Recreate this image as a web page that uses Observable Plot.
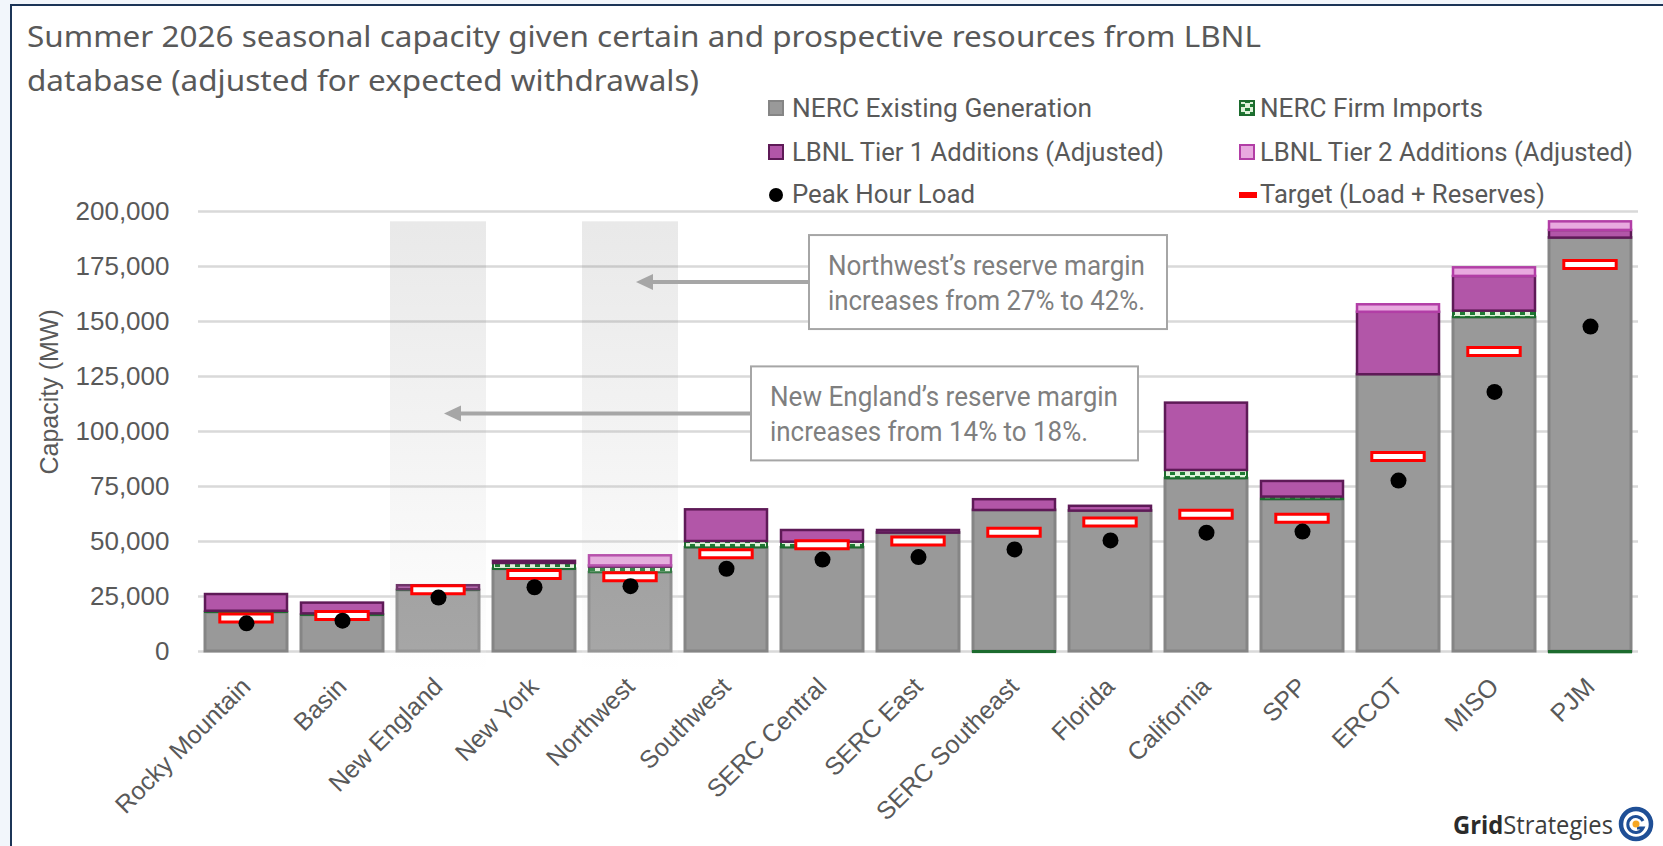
<!DOCTYPE html>
<html><head><meta charset="utf-8">
<script src="https://cdn.jsdelivr.net/npm/d3@7"></script>
<script src="https://cdn.jsdelivr.net/npm/@observablehq/plot@0.6"></script>
<style>
html,body{margin:0;padding:0;background:#f2f6fb;}
#page{position:relative;width:1663px;height:846px;overflow:hidden;background:#f2f6fb;}
#frame{position:absolute;left:10px;top:4px;width:1700px;height:900px;border:2px solid #1c3557;background:#fff;box-sizing:border-box}
#chart{position:absolute;left:0;top:0}
#overlay{position:absolute;left:0;top:0;pointer-events:none}
</style></head><body>
<div id="page"><div id="frame"></div><div id="chart"></div>
<svg id="overlay" width="1663" height="846" xmlns="http://www.w3.org/2000/svg">
<defs>
<pattern id="hatch" patternUnits="userSpaceOnUse" width="10" height="8">
<rect width="10" height="8" fill="#dff2da"/>
<rect x="0" y="0" width="5" height="3" fill="#1f7a34"/>
<rect x="5" y="4" width="5" height="3" fill="#1f7a34"/>
</pattern>
<linearGradient id="shade" x1="0" y1="0" x2="0" y2="1">
<stop offset="0" stop-color="#555" stop-opacity="0.13"/>
<stop offset="1" stop-color="#fff" stop-opacity="0.14"/>
</linearGradient>
</defs>
</svg>
</div>
<script>
// ---------- data ----------
const regions = ["Rocky Mountain","Basin","New England","New York","Northwest","Southwest","SERC Central","SERC East","SERC Southeast","Florida","California","SPP","ERCOT","MISO","PJM"];
const seriesNames = ["NERC Existing Generation","NERC Firm Imports","LBNL Tier 1 Additions (Adjusted)","LBNL Tier 2 Additions (Adjusted)"];
const existing    = [17700,16400,27700,37300,35800,47100,47100,53800,64100,63800,78500,69000,125800,151700,187900];
const firmImports = [600,700,400,2700,2500,2900,2600,0,-500,0,3800,1200,0,3000,-600];
const tier1       = [7600,4900,1800,1000,600,14400,5300,1200,4900,2200,30600,7100,28400,15800,3500];
const tier2       = [0,0,0,0,4600,0,0,0,0,0,0,0,3400,3900,3900];
const peakLoad    = [12800,14000,24500,29200,29700,37600,41800,42900,46400,50500,54000,54500,77700,118000,147700];
const targetLoad  = [15200,16400,28100,35000,34000,44400,48500,50200,54200,58900,62400,60600,88600,136400,175900];
const yTicks = [0,25000,50000,75000,100000,125000,150000,175000,200000];
const yLabel = "Capacity (MW)";
const yLabelLevel = 118000;
const highlighted = ["New England","Northwest"];
const titleLines = ["Summer 2026 seasonal capacity given certain and prospective resources from LBNL","database (adjusted for expected withdrawals)"];
const legendLabels = ["NERC Existing Generation","NERC Firm Imports","LBNL Tier 1 Additions (Adjusted)","LBNL Tier 2 Additions (Adjusted)","Peak Hour Load","Target (Load + Reserves)"];
const annoRegions = ["Northwest","New England"];
const annoLines = [["Northwest\u2019s reserve margin","increases from 27% to 42%."],["New England\u2019s reserve margin","increases from 14% to 18%."]];
const annoLevel = [167700,108000];

// ---------- stacking ----------
const seriesValues = [existing, firmImports, tier1, tier2];
const rows = [];
regions.forEach((r, i) => {
  let pos = 0, neg = 0;
  seriesValues.forEach((vals, s) => {
    const v = vals[i];
    if (!v) return;
    if (v > 0) { rows.push({region: r, series: seriesNames[s], y1: pos, y2: pos + v}); pos += v; }
    else { rows.push({region: r, series: seriesNames[s], y1: neg + v, y2: neg}); neg += v; }
  });
});
const totals = regions.map((r, i) => seriesValues.reduce((a, vals) => a + Math.max(0, vals[i]), 0));
const markers = regions.map((r, i) => ({region: r, load: peakLoad[i], target: targetLoad[i]}));
const shadeTop = d3.max(totals);

const seriesStyle = {
  "NERC Existing Generation": {fill: "#999999", stroke: "#858585", strokeWidth: 3},
  "NERC Firm Imports": {fill: "url(#hatch)", stroke: "#1c6b2e", strokeWidth: 2},
  "LBNL Tier 1 Additions (Adjusted)": {fill: "#b256a8", stroke: "#5e1a57", strokeWidth: 2.5},
  "LBNL Tier 2 Additions (Adjusted)": {fill: "#e8a9df", stroke: "#b23ea6", strokeWidth: 2.5}
};

const W = 1663, H = 846;
const plot = Plot.plot({
  width: W, height: H,
  marginTop: 211, marginBottom: 195, marginLeft: 198, marginRight: 25,
  style: {fontFamily: "'Liberation Sans', Arial, sans-serif", color: "#595959", background: "none"},
  x: {domain: regions, paddingInner: 0.15, paddingOuter: 0.075, label: null},
  y: {domain: [0, 200000], label: null},
  marks: [
    Plot.gridY(yTicks, {stroke: "#d9d9d9", strokeOpacity: 1, strokeWidth: 2.5}),
    Plot.axisY(yTicks, {tickSize: 0, tickPadding: 29, tickFormat: d3.format(","), fontSize: 26, label: null}),
    Plot.text([yLabel], {text: d => d, y: () => yLabelLevel, frameAnchor: "left", textAnchor: "middle", rotate: -90, dx: -149, fontSize: 25, fill: "#595959"}),
    Plot.axisX({tickRotate: -45, tickSize: 0, tickPadding: 31, fontSize: 25, label: null}),
    ...seriesNames.map(s => Plot.barY(rows.filter(d => d.series === s), {x: "region", y1: "y1", y2: "y2", ...seriesStyle[s]})),
    Plot.barY(highlighted, {x: d => d, y1: 0, y2: () => shadeTop, fill: "url(#shade)", insetLeft: -7, insetRight: -7, insetBottom: -20}),
    Plot.tickY(markers, {x: "region", y: "target", stroke: "#ff0000", strokeWidth: 11, insetLeft: 13.3, insetRight: 13.3}),
    Plot.tickY(markers, {x: "region", y: "target", stroke: "#ffffff", strokeWidth: 5, insetLeft: 16.3, insetRight: 16.3}),
    Plot.dot(markers, {x: "region", y: "load", r: 8, fill: "#000000", stroke: "none"})
  ]
});
document.getElementById("chart").appendChild(plot);

// ---------- overlay: title, legend, annotations, logo ----------
const ov = d3.select("#overlay");
const xs = plot.scale("x"), ys = plot.scale("y");
const narrow = "'Roboto', 'Liberation Sans Narrow', sans-serif";

// title
const titleWidths = [1234, 672];
titleLines.forEach((t, i) => {
  ov.append("text").attr("x", 27).attr("y", 47 + i * 44)
    .attr("font-family", "'Noto Sans', 'Open Sans', sans-serif").attr("font-size", 29)
    .attr("fill", "#595959").attr("textLength", titleWidths[i]).attr("lengthAdjust", "spacingAndGlyphs").text(t);
});

// legend
const legX = [768, 1239], legTextX = [792, 1260], legY = [108, 152, 194];
const legW = [300, 223, 372, 373, 183, 285];
legendLabels.forEach((lab, i) => {
  const col = i % 2, row = Math.floor(i / 2);
  const cx = legX[col], cy = legY[row];
  const g = ov.append("g");
  if (i < 4) {
    const st = seriesStyle[seriesNames[i]];
    g.append("rect").attr("x", cx + 1).attr("y", cy - 7).attr("width", 14).attr("height", 14)
      .attr("fill", st.fill).attr("stroke", st.stroke).attr("stroke-width", 2);
  } else if (i === 4) {
    g.append("circle").attr("cx", cx + 8).attr("cy", cy + 1).attr("r", 7).attr("fill", "#000");
  } else {
    g.append("rect").attr("x", cx).attr("y", cy - 2).attr("width", 18).attr("height", 6).attr("fill", "#ff0000");
  }
  g.append("text").attr("x", legTextX[col]).attr("y", cy + 9)
    .attr("font-family", narrow).attr("font-size", 26).attr("fill", "#595959")
    .attr("textLength", legW[i]).attr("lengthAdjust", "spacingAndGlyphs").text(lab);
});

// annotations
const boxLeft = [809, 751], boxW = [358, 387], boxH = 94;
const lineW = [[317, 317], [348, 318]];
annoRegions.forEach((r, i) => {
  const yc = ys.apply(annoLevel[i]);
  const tip = xs.apply(r) + xs.bandwidth / 2 + 6;
  ov.append("line").attr("x1", boxLeft[i]).attr("x2", tip + 14).attr("y1", yc).attr("y2", yc)
    .attr("stroke", "#a6a6a6").attr("stroke-width", 4);
  ov.append("path").attr("d", `M${tip},${yc} L${tip + 17},${yc - 8} L${tip + 17},${yc + 8} Z`).attr("fill", "#a6a6a6");
  ov.append("rect").attr("x", boxLeft[i]).attr("y", yc - boxH / 2).attr("width", boxW[i]).attr("height", boxH)
    .attr("fill", "#ffffff").attr("stroke", "#a6a6a6").attr("stroke-width", 2);
  annoLines[i].forEach((t, j) => {
    ov.append("text").attr("x", boxLeft[i] + 19).attr("y", yc - 7 + j * 35)
      .attr("font-family", narrow).attr("font-size", 28).attr("fill", "#7f7f7f")
      .attr("textLength", lineW[i][j]).attr("lengthAdjust", "spacingAndGlyphs").text(t);
  });
});

// logo
const logo = ov.append("text").attr("x", 1453).attr("y", 834).attr("font-family", "'Open Sans', sans-serif").attr("font-size", 25)
  .attr("textLength", 160).attr("lengthAdjust", "spacingAndGlyphs");
logo.append("tspan").attr("font-weight", "bold").attr("fill", "#2b2b2b").text("Grid");
logo.append("tspan").attr("fill", "#3d3d3d").text("Strategies");
const icon = ov.append("g").attr("transform", "translate(1636,824)");
icon.append("circle").attr("r", 15).attr("fill", "none").attr("stroke", "#1f4f96").attr("stroke-width", 4.5);
icon.append("path").attr("d", "M 7 -3 A 8 8 0 1 0 7 4 L 1 4").attr("fill", "none").attr("stroke", "#1f4f96").attr("stroke-width", 3);
icon.append("circle").attr("r", 3.5).attr("fill", "#f5a623");
</script>
</body></html>
